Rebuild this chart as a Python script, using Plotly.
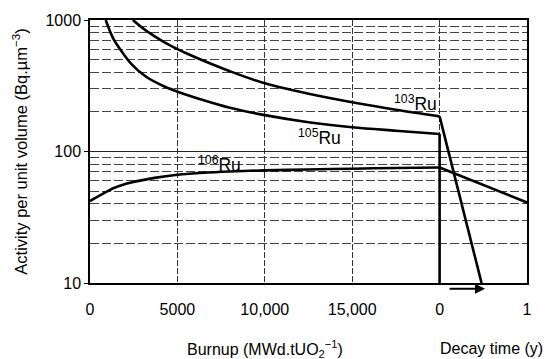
import math
import plotly.graph_objects as go

# ---- data ----
ru103_burnup = [2450, 3100, 3700, 4450, 5000, 5600, 6500, 8000, 10000, 12500, 15000, 17500, 20000]
ru103_vals = [1000, 850, 752, 655, 600, 552, 490, 408, 330, 275, 237, 208, 185]
ru103_decay_t = [0, 0.48]
ru103_decay_vals = [185, 10]

ru105_burnup = [900, 1310, 1790, 2360, 3210, 4260, 5020, 5600, 6300, 8000, 10000, 12500, 15000, 17500, 20000]
ru105_vals = [1000, 732, 582, 464, 370, 312, 285, 268, 250, 215, 189, 167, 153, 144, 136]
ru105_decay_t = [0, 0]
ru105_decay_vals = [136, 8]

ru106_burnup = [0, 650, 1400, 2350, 3700, 5000, 6500, 8000, 10000, 12500, 15000, 17500, 20000]
ru106_vals = [42, 47, 53, 58, 63, 66.5, 69, 70.5, 71.8, 73, 74, 75, 75.5]
ru106_decay_t = [0, 1]
ru106_decay_vals = [75.5, 41]

x_tickvals = [0, 5000, 10000, 15000, 20000, 25000]
x_ticktext = ["0", "5000", "10,000", "15,000", "0", "1"]
y_tickvals = [10, 100, 1000]
y_ticktext = ["10", "100", "1000"]

# combined axis: burnup 0..20000 then decay time 0..1 y (1 y = 5000 units)
BURNUP_END = 20000
YEAR_SPAN = 5000


def decay_x(ts):
    return [BURNUP_END + YEAR_SPAN * t for t in ts]


FONT = "Liberation Sans, Arial, sans-serif"
line_s = dict(color="black", width=2.6, shape="spline", smoothing=0.9)
line_l = dict(color="black", width=2.6)

fig = go.Figure()
for bx, bv, dt, dv in [
    (ru103_burnup, ru103_vals, ru103_decay_t, ru103_decay_vals),
    (ru105_burnup, ru105_vals, ru105_decay_t, ru105_decay_vals),
    (ru106_burnup, ru106_vals, ru106_decay_t, ru106_decay_vals),
]:
    fig.add_trace(go.Scatter(x=bx, y=bv, mode="lines", line=line_s,
                             showlegend=False, hoverinfo="skip"))
    fig.add_trace(go.Scatter(x=decay_x(dt), y=dv, mode="lines", line=line_l,
                             showlegend=False, hoverinfo="skip"))

# labels: (text, burnup position, value)
labels = [
    ("<sup>103</sup>Ru", 18600, 234),
    ("<sup>105</sup>Ru", 13150, 129),
    ("<sup>106</sup>Ru", 7400, 81),
]
for txt, xv, yv in labels:
    fig.add_annotation(x=xv, y=math.log10(yv), text=txt, showarrow=False,
                       font=dict(family=FONT, size=17.5, color="black"))

# arrow under the decay-time axis
fig.add_annotation(x=BURNUP_END + YEAR_SPAN * 0.52, y=-0.022, xref="x", yref="paper",
                   ax=-37, ay=0, axref="pixel", ayref="pixel", text="",
                   showarrow=True, arrowhead=2, arrowsize=1, arrowwidth=2,
                   arrowcolor="black")

# x titles
fig.add_annotation(x=10000, y=-0.25, xref="x", yref="paper", yanchor="middle",
                   text="Burnup (MWd.tUO<sub>2</sub><sup>\u22121</sup>)", showarrow=False,
                   font=dict(family=FONT, size=16, color="black"))
fig.add_annotation(x=22950, y=-0.25, xref="x", yref="paper", yanchor="middle",
                   text="Decay time (y)", showarrow=False,
                   font=dict(family=FONT, size=16, color="black"))

fig.update_layout(
    width=549, height=359,
    margin=dict(l=90, r=22, t=15, b=76),
    paper_bgcolor="white", plot_bgcolor="white",
    font=dict(family=FONT, size=16, color="black"),
    xaxis=dict(range=[0, 25000], tickvals=x_tickvals, ticktext=x_ticktext,
               showgrid=True, gridcolor="#333", gridwidth=1, griddash="6px,2px",
               showline=True, linecolor="black", linewidth=1.5, mirror=True,
               ticks="outside", ticklen=11, tickcolor="rgba(0,0,0,0)",
               zeroline=False, tickfont=dict(size=16)),
    yaxis=dict(type="log", range=[1, 3], tickvals=y_tickvals, ticktext=y_ticktext,
               showgrid=True, gridcolor="#222", gridwidth=1,
               showline=True, linecolor="black", linewidth=1.5, mirror=True,
               ticks="outside", ticklen=4, tickcolor="black",
               minor=dict(showgrid=True, gridcolor="#444", gridwidth=1, griddash="9px,3px",
                          dtick="D1", ticks=""),
               title=dict(text="Activity per unit volume (Bq.\u00b5m<sup>\u22123</sup>)",
                          font=dict(size=16.5), standoff=14),
               zeroline=False, tickfont=dict(size=16)),
)

fig.write_html("out.html")
